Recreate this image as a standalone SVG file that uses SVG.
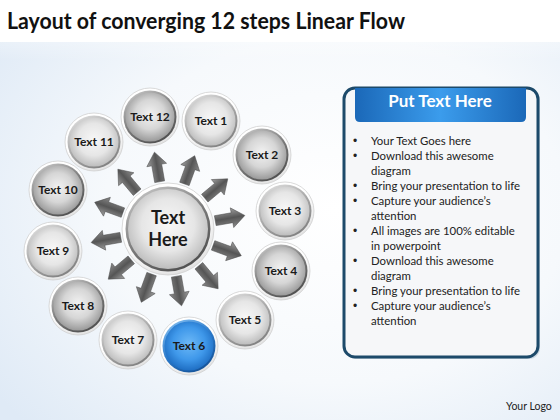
<svg xmlns="http://www.w3.org/2000/svg" width="560" height="420" viewBox="0 0 560 420">
<defs>
<radialGradient id="bg" cx="0.6" cy="0.5" r="0.75">
<stop offset="0" stop-color="#ffffff"/>
<stop offset="0.55" stop-color="#f6f9fc"/>
<stop offset="1" stop-color="#dfeaf6"/>
</radialGradient>
<linearGradient id="bgTop" x1="0" y1="0" x2="0" y2="1">
<stop offset="0" stop-color="#ffffff"/>
<stop offset="1" stop-color="#ffffff" stop-opacity="0"/>
</linearGradient>
<radialGradient id="halo" cx="0.45" cy="0.4" r="0.6">
<stop offset="0.78" stop-color="#ffffff"/>
<stop offset="1" stop-color="#e2e2e2"/>
</radialGradient>
<linearGradient id="ringDark" x1="0.2" y1="0" x2="0.8" y2="1">
<stop offset="0" stop-color="#c4c4c4"/>
<stop offset="0.5" stop-color="#7a7a7a"/>
<stop offset="1" stop-color="#4a4a4a"/>
</linearGradient>
<linearGradient id="ringLight" x1="0.2" y1="0" x2="0.8" y2="1">
<stop offset="0" stop-color="#dcdcdc"/>
<stop offset="0.5" stop-color="#a6a6a6"/>
<stop offset="1" stop-color="#7c7c7c"/>
</linearGradient>
<radialGradient id="fillDark" cx="0.5" cy="0.45" r="0.55">
<stop offset="0" stop-color="#f2f2f2"/>
<stop offset="0.55" stop-color="#d6d6d6"/>
<stop offset="1" stop-color="#9a9a9a"/>
</radialGradient>
<radialGradient id="fillLight" cx="0.5" cy="0.45" r="0.55">
<stop offset="0" stop-color="#f7f7f7"/>
<stop offset="0.6" stop-color="#e6e6e6"/>
<stop offset="1" stop-color="#bdbdbd"/>
</radialGradient>
<linearGradient id="ringBlue" x1="0.2" y1="0" x2="0.8" y2="1">
<stop offset="0" stop-color="#7fbcf0"/>
<stop offset="0.5" stop-color="#2a78c8"/>
<stop offset="1" stop-color="#134f93"/>
</linearGradient>
<radialGradient id="fillBlue" cx="0.5" cy="0.45" r="0.55">
<stop offset="0" stop-color="#6db9f7"/>
<stop offset="0.6" stop-color="#3f98ea"/>
<stop offset="1" stop-color="#1f6fc4"/>
</radialGradient>
<linearGradient id="arrowGrad" x1="0" y1="0" x2="0" y2="1">
<stop offset="0" stop-color="#a0a0a0"/>
<stop offset="0.5" stop-color="#555555"/>
<stop offset="1" stop-color="#8a8a8a"/>
</linearGradient>
<linearGradient id="header" x1="0" y1="0" x2="1" y2="0">
<stop offset="0" stop-color="#1b68b8"/>
<stop offset="0.5" stop-color="#3b9cec"/>
<stop offset="1" stop-color="#1b68b8"/>
</linearGradient>
<path id="arrow" d="M0,-5 L17,-5 L17,-10 L30,0 L17,10 L17,5 L0,5 Z"/>
</defs>
<style>
.title{font-family:Lato,"Liberation Sans",sans-serif;font-weight:bold;font-size:22px;fill:#111}
.lbl{font-family:Lato,"Liberation Sans",sans-serif;font-weight:bold;font-size:12px;fill:#1a1a1a;text-anchor:middle}
.big{font-family:Lato,"Liberation Sans",sans-serif;font-weight:bold;font-size:18px;fill:#1a1a1a;text-anchor:middle}
.halo{fill:url(#halo);stroke:#d0d0d0;stroke-width:0.8}
.rd{fill:url(#ringDark)}
.rl{fill:url(#ringLight)}
.fd{fill:url(#fillDark)}
.fl{fill:url(#fillLight)}
.arr{fill:url(#arrowGrad);stroke:#4a4a4a;stroke-width:0.5}
.body{font-family:Lato,"Liberation Sans",sans-serif;font-size:11.4px;fill:#222}
.dot{font-family:"Liberation Sans",sans-serif;font-size:12px;fill:#222}
.hdr{font-family:Lato,"Liberation Sans",sans-serif;font-weight:bold;font-size:17px;fill:#ffffff;text-anchor:middle}
.logo{font-family:Lato,"Liberation Sans",sans-serif;font-size:10.5px;fill:#222}
</style>
<rect x="0" y="0" width="560" height="420" fill="url(#bg)"/>
<rect x="0" y="0" width="560" height="60" fill="url(#bgTop)"/>
<rect x="0" y="0" width="560" height="42" fill="#ffffff"/>
<text class="title" x="7" y="29" textLength="398" lengthAdjust="spacingAndGlyphs">Layout of converging 12 steps Linear Flow</text>

<g id="connectors">
<use href="#arrow" class="arr" transform="translate(168,229) rotate(-100) translate(48,0)"/>
<use href="#arrow" class="arr" transform="translate(168,229) rotate(-70) translate(48,0)"/>
<use href="#arrow" class="arr" transform="translate(168,229) rotate(-40) translate(48,0)"/>
<use href="#arrow" class="arr" transform="translate(168,229) rotate(-10) translate(48,0)"/>
<use href="#arrow" class="arr" transform="translate(168,229) rotate(20) translate(48,0)"/>
<use href="#arrow" class="arr" transform="translate(168,229) rotate(50) translate(48,0)"/>
<use href="#arrow" class="arr" transform="translate(168,229) rotate(80) translate(48,0)"/>
<use href="#arrow" class="arr" transform="translate(168,229) rotate(110) translate(48,0)"/>
<use href="#arrow" class="arr" transform="translate(168,229) rotate(140) translate(48,0)"/>
<use href="#arrow" class="arr" transform="translate(168,229) rotate(170) translate(48,0)"/>
<use href="#arrow" class="arr" transform="translate(168,229) rotate(200) translate(48,0)"/>
<use href="#arrow" class="arr" transform="translate(168,229) rotate(230) translate(48,0)"/>
</g>

<g id="center">
<circle cx="168" cy="229" r="46" class="halo"/>
<circle cx="168" cy="229" r="42.5" class="rd"/>
<circle cx="168" cy="229" r="40" class="fl"/>
<text class="big" x="168" y="224">Text</text>
<text class="big" x="168" y="246">Here</text>
</g>

<g id="n12"><circle cx="150" cy="117" r="29" class="halo"/><circle cx="150" cy="117" r="26.5" class="rd"/><circle cx="150" cy="117" r="24.5" class="fd"/><text class="lbl" x="150" y="121">Text 12</text></g>
<g id="n1"><circle cx="211" cy="121" r="29" class="halo"/><circle cx="211" cy="121" r="26.5" class="rl"/><circle cx="211" cy="121" r="24.5" class="fl"/><text class="lbl" x="211" y="125">Text 1</text></g>
<g id="n2"><circle cx="262" cy="155" r="29" class="halo"/><circle cx="262" cy="155" r="26.5" class="rd"/><circle cx="262" cy="155" r="24.5" class="fd"/><text class="lbl" x="262" y="159">Text 2</text></g>
<g id="n3"><circle cx="285" cy="211" r="29" class="halo"/><circle cx="285" cy="211" r="26.5" class="rl"/><circle cx="285" cy="211" r="24.5" class="fl"/><text class="lbl" x="285" y="215">Text 3</text></g>
<g id="n4"><circle cx="281" cy="271" r="29" class="halo"/><circle cx="281" cy="271" r="26.5" class="rd"/><circle cx="281" cy="271" r="24.5" class="fd"/><text class="lbl" x="281" y="275">Text 4</text></g>
<g id="n5"><circle cx="245" cy="320" r="29" class="halo"/><circle cx="245" cy="320" r="26.5" class="rl"/><circle cx="245" cy="320" r="24.5" class="fl"/><text class="lbl" x="245" y="324">Text 5</text></g>
<g id="n6"><circle cx="189" cy="346" r="29" class="halo"/><circle cx="189" cy="346" r="26.5" fill="url(#ringBlue)"/><circle cx="189" cy="346" r="24.5" fill="url(#fillBlue)"/><text class="lbl" x="189" y="350">Text 6</text></g>
<g id="n7"><circle cx="128" cy="340" r="29" class="halo"/><circle cx="128" cy="340" r="26.5" class="rl"/><circle cx="128" cy="340" r="24.5" class="fl"/><text class="lbl" x="128" y="344">Text 7</text></g>
<g id="n8"><circle cx="78" cy="306" r="29" class="halo"/><circle cx="78" cy="306" r="26.5" class="rd"/><circle cx="78" cy="306" r="24.5" class="fd"/><text class="lbl" x="78" y="310">Text 8</text></g>
<g id="n9"><circle cx="53" cy="251" r="29" class="halo"/><circle cx="53" cy="251" r="26.5" class="rl"/><circle cx="53" cy="251" r="24.5" class="fl"/><text class="lbl" x="53" y="255">Text 9</text></g>
<g id="n10"><circle cx="58" cy="190" r="29" class="halo"/><circle cx="58" cy="190" r="26.5" class="rd"/><circle cx="58" cy="190" r="24.5" class="fd"/><text class="lbl" x="58" y="194">Text 10</text></g>
<g id="n11"><circle cx="94" cy="142" r="29" class="halo"/><circle cx="94" cy="142" r="26.5" class="rl"/><circle cx="94" cy="142" r="24.5" class="fl"/><text class="lbl" x="94" y="146">Text 11</text></g>

<g id="panel">
<rect x="346" y="90" width="194" height="269" rx="11" fill="#9fb3c4" opacity="0.45"/>
<rect x="344" y="88" width="194" height="269" rx="11" fill="#f6f7f9" stroke="#1d4a6a" stroke-width="3"/>
<path d="M355,88 L526,88 L526,117 Q526,122 521,122 L360,122 Q355,122 355,117 Z" fill="url(#header)"/>
<text class="hdr" x="440" y="107">Put Text Here</text>
<g class="body">
<text class="dot" x="353" y="145">•</text><text x="371" y="145">Your Text Goes here</text>
<text class="dot" x="353" y="160">•</text><text x="371" y="160">Download this awesome</text>
<text x="371" y="175">diagram</text>
<text class="dot" x="353" y="190">•</text><text x="371" y="190">Bring your presentation to life</text>
<text class="dot" x="353" y="205">•</text><text x="371" y="205">Capture your audience’s</text>
<text x="371" y="220">attention</text>
<text class="dot" x="353" y="235">•</text><text x="371" y="235">All images are 100% editable</text>
<text x="371" y="250">in powerpoint</text>
<text class="dot" x="353" y="265">•</text><text x="371" y="265">Download this awesome</text>
<text x="371" y="280">diagram</text>
<text class="dot" x="353" y="295">•</text><text x="371" y="295">Bring your presentation to life</text>
<text class="dot" x="353" y="310">•</text><text x="371" y="310">Capture your audience’s</text>
<text x="371" y="325">attention</text>
</g>
</g>
<text class="logo" x="506" y="410">Your Logo</text>
</svg>
